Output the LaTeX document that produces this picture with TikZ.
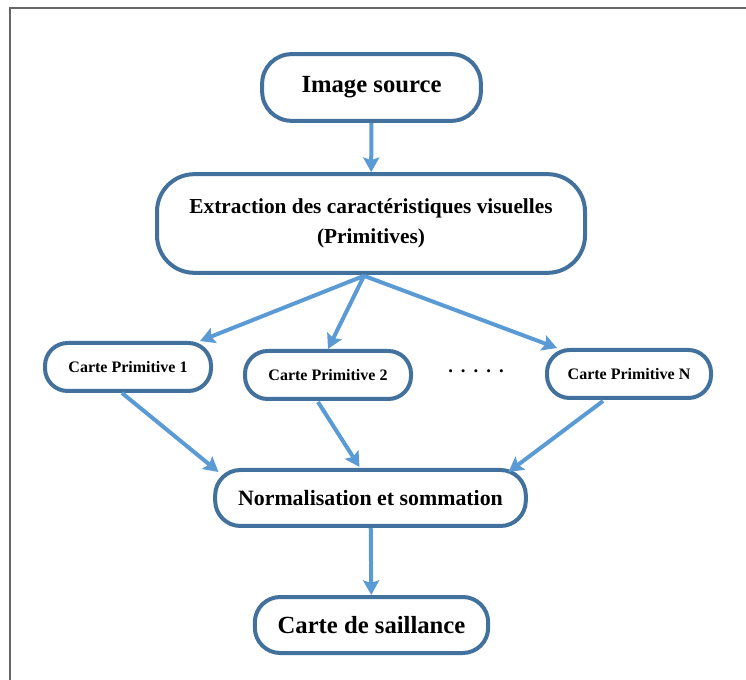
\documentclass[tikz,border=0pt]{standalone}
\usepackage{fontspec}
\setmainfont{Liberation Serif}
\usetikzlibrary{calc,arrows.meta}
\definecolor{boxline}{HTML}{41719C}
\definecolor{arrowline}{HTML}{5B9BD5}

\begin{document}
\begin{tikzpicture}[x=0.75pt,y=-0.75pt,
	box/.style={draw=boxline,line width=3pt,fill=white,rectangle,inner sep=0pt,align=center,font=\bfseries},
	flow/.style={draw=arrowline,line width=3pt,-{Stealth[length=11pt,width=12pt,inset=2pt]}}]
	\useasboundingbox (0,0) rectangle (746,680);
	\draw[gray!80!black,line width=1pt] (10,700) -- (10,8) -- (760,8);

	\node[box,minimum width=164pt,minimum height=50pt,rounded corners=22pt,font=\bfseries\fontsize{18.5}{22}\selectfont] (src) at (371.5,87.5) {Image source};
	\node[box,minimum width=321pt,minimum height=74pt,rounded corners=28pt,font=\bfseries\fontsize{16}{22}\selectfont] (extr) at (371,223.5) {Extraction des caractéristiques visuelles\\(Primitives)};

	\node[box,minimum width=124.5pt,minimum height=36pt,rounded corners=17pt,font=\bfseries\fontsize{12}{14}\selectfont] (cp1) at (128,367) {Carte Primitive 1};
	\node[box,minimum width=124.5pt,minimum height=36pt,rounded corners=17pt,font=\bfseries\fontsize{12}{14}\selectfont] (cp2) at (328,375) {Carte Primitive 2};
	\node[box,minimum width=123pt,minimum height=36pt,rounded corners=17pt,font=\bfseries\fontsize{12}{14}\selectfont] (cpn) at (629,374) {Carte Primitive N};
	\node[font=\bfseries\fontsize{14}{16}\selectfont] (dots) at (476,371) {.\hspace{6pt}.\hspace{6pt}.\hspace{6pt}.\hspace{6pt}.};

	\node[box,minimum width=233pt,minimum height=42pt,rounded corners=19pt,font=\bfseries\fontsize{16.4}{20}\selectfont] (norm) at (370.5,498) {Normalisation et sommation};
	\node[box,minimum width=175pt,minimum height=42pt,rounded corners=19pt,font=\bfseries\fontsize{18.5}{22}\selectfont] (sal) at (371.5,625) {Carte de saillance};

	\coordinate (split) at ($(extr.south)+(-7,1)$);

	\draw[flow] (src) -- (extr);
	\draw[flow] (split) -- ($(cp1.north)+(72,0)$);
	\draw[flow] (split) -- (cp2.north);
	\draw[flow] (split) -- ($(cpn.north)+(-72,0)$);
	\draw[flow] ($(cp1.south)+(-6,0)$) -- ($(norm.north)+(-152,4)$);
	\draw[flow] ($(cp2.south)+(-10,1)$) -- ($(norm.north)+(-11,-1)$);
	\draw[flow] ($(cpn.south)+(-26,1)$) -- ($(norm.north)+(138,4)$);
	\draw[flow] (norm) -- (sal);
\end{tikzpicture}
\end{document}
